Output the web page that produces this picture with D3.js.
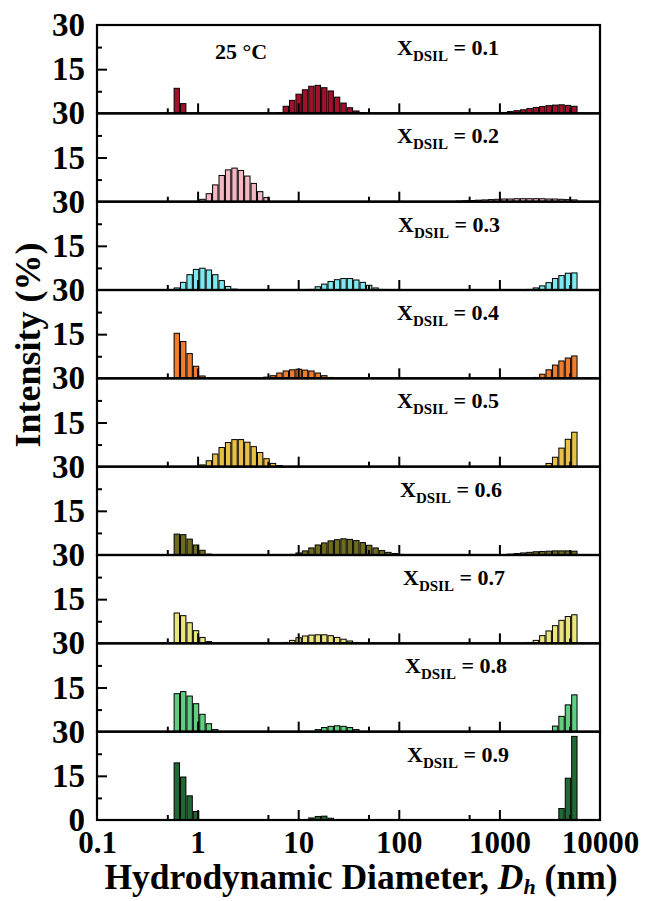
<!DOCTYPE html>
<html>
<head>
<meta charset="utf-8">
<script src="https://cdn.jsdelivr.net/npm/d3@7/dist/d3.min.js"></script>
<style>
  html, body { margin: 0; padding: 0; background: #ffffff; }
  svg { display: block; }
  text { font-family: "Liberation Serif", "Times New Roman", serif; font-weight: bold; fill: #000; }
</style>
</head>
<body>
<svg id="chart" width="665" height="901"></svg>
<script>
// Size-bin centres of the DLS instrument (nm)
const binSizes = [0.4, 0.4632, 0.5365, 0.6213, 0.7195, 0.8332, 0.9649, 1.117, 1.294, 1.499,
  1.736, 2.01, 2.328, 2.696, 3.122, 3.615, 4.187, 4.849, 5.615, 6.503,
  7.531, 8.721, 10.1, 11.7, 13.54, 15.69, 18.17, 21.04, 24.36, 28.21,
  32.67, 37.84, 43.82, 50.75, 58.77, 68.06, 78.82, 91.28, 105.7, 122.4,
  141.8, 164.2, 190.1, 220.2, 255.0, 295.3, 342.0, 396.1, 458.7, 531.2,
  615.1, 712.4, 825.0, 955.4, 1106, 1281, 1484, 1718, 1990, 2305,
  2669, 3091, 3580, 4145, 4801, 5560, 6439, 7456, 8635, 10000];

// Mole fraction of DSIL for each panel
const mixFractions = ["0.1", "0.2", "0.3", "0.4", "0.5", "0.6", "0.7", "0.8", "0.9"];

// Intensity distributions: [diameter (nm), intensity (%)]
const dsil01 = [[0.6213, 8.5], [0.7195, 3.3],
  [6.503, 0.2], [7.531, 2.4], [8.721, 4.4], [10.1, 6.5], [11.7, 8.0], [13.54, 9.2], [15.69, 9.5],
  [18.17, 8.7], [21.04, 7.6], [24.36, 5.5], [28.21, 3.5], [32.67, 1.9], [37.84, 0.8], [43.82, 0.2],
  [955.4, 0.1], [1106, 0.3], [1281, 0.6], [1484, 0.9], [1718, 1.2], [1990, 1.6], [2305, 2.0],
  [2669, 2.3], [3091, 2.6], [3580, 2.8], [4145, 2.9], [4801, 2.7], [5560, 2.4]];
const dsil02 = [[1.117, 0.8], [1.294, 2.7], [1.499, 5.7], [1.736, 8.9], [2.01, 10.8], [2.328, 11.4],
  [2.696, 10.6], [3.122, 8.7], [3.615, 6.2], [4.187, 3.4], [4.849, 1.4],
  [396.1, 0.2], [458.7, 0.3], [531.2, 0.4], [615.1, 0.5], [712.4, 0.6], [825.0, 0.7], [955.4, 0.8],
  [1106, 0.9], [1281, 0.9], [1484, 1.0], [1718, 1.0], [1990, 1.0], [2305, 1.0], [2669, 1.0],
  [3091, 0.9], [3580, 0.9], [4145, 0.8], [4801, 0.7], [5560, 0.6]];
const dsil03 = [[0.6213, 0.7], [0.7195, 2.6], [0.8332, 5.2], [0.9649, 7.0], [1.117, 7.4], [1.294, 6.8],
  [1.499, 5.2], [1.736, 3.2], [2.01, 1.2], [2.328, 0.3],
  [13.54, 0.2], [15.69, 1.1], [18.17, 2.0], [21.04, 2.9], [24.36, 3.5], [28.21, 3.9], [32.67, 3.9],
  [37.84, 3.4], [43.82, 2.6], [50.75, 1.6], [58.77, 0.7], [68.06, 0.2],
  [1990, 0.2], [2305, 0.7], [2669, 1.4], [3091, 2.5], [3580, 3.9], [4145, 4.9], [4801, 5.7], [5560, 5.8]];
const dsil04 = [[0.6213, 15.3], [0.7195, 12.5], [0.8332, 8.4], [0.9649, 4.1], [1.117, 0.8],
  [4.849, 0.4], [5.615, 0.9], [6.503, 1.8], [7.531, 2.5], [8.721, 2.9], [10.1, 3.1], [11.7, 2.8],
  [13.54, 2.5], [15.69, 1.8], [18.17, 0.9], [21.04, 0.3],
  [2305, 0.3], [2669, 1.4], [3091, 2.9], [3580, 4.5], [4145, 5.9], [4801, 6.9], [5560, 7.6]];
const dsil05 = [[1.117, 0.6], [1.294, 2.0], [1.499, 4.3], [1.736, 6.5], [2.01, 8.2], [2.328, 9.2],
  [2.696, 9.2], [3.122, 8.3], [3.615, 6.8], [4.187, 4.8], [4.849, 2.7], [5.615, 1.1], [6.503, 0.4],
  [3091, 1.1], [3580, 3.2], [4145, 6.3], [4801, 9.3], [5560, 11.7]];
const dsil06 = [[0.6213, 7.1], [0.7195, 6.9], [0.8332, 5.4], [0.9649, 3.4], [1.117, 1.6], [1.294, 0.3],
  [8.721, 0.2], [10.1, 0.7], [11.7, 1.4], [13.54, 2.4], [15.69, 3.4], [18.17, 4.1], [21.04, 4.8],
  [24.36, 5.2], [28.21, 5.5], [32.67, 5.3], [37.84, 4.9], [43.82, 4.2], [50.75, 3.3], [58.77, 2.4],
  [68.06, 1.5], [78.82, 0.9], [91.28, 0.5], [105.7, 0.2],
  [1106, 0.1], [1281, 0.3], [1484, 0.5], [1718, 0.7], [1990, 0.9], [2305, 1.1], [2669, 1.2],
  [3091, 1.3], [3580, 1.4], [4145, 1.4], [4801, 1.4], [5560, 1.3]];
const dsil07 = [[0.6213, 10.3], [0.7195, 9.4], [0.8332, 7.0], [0.9649, 4.3], [1.117, 2.0], [1.294, 0.6],
  [7.531, 0.3], [8.721, 1.0], [10.1, 1.9], [11.7, 2.5], [13.54, 2.8], [15.69, 2.9], [18.17, 2.9],
  [21.04, 2.6], [24.36, 2.0], [28.21, 1.4], [32.67, 0.8], [37.84, 0.3],
  [1990, 0.3], [2305, 1.0], [2669, 2.6], [3091, 4.2], [3580, 6.0], [4145, 7.8], [4801, 9.1], [5560, 9.7]];
const dsil08 = [[0.6213, 12.9], [0.7195, 13.6], [0.8332, 12.1], [0.9649, 9.5], [1.117, 5.9], [1.294, 2.7],
  [1.499, 0.7],
  [15.69, 0.7], [18.17, 1.4], [21.04, 1.8], [24.36, 2.0], [28.21, 1.8], [32.67, 1.4], [37.84, 0.7],
  [3580, 1.9], [4145, 5.2], [4801, 9.1], [5560, 12.5]];
const dsil09 = [[0.6213, 19.4], [0.7195, 14.6], [0.8332, 8.2], [0.9649, 2.9],
  [13.54, 0.7], [15.69, 1.2], [18.17, 1.3], [21.04, 0.6],
  [4145, 3.9], [4801, 14.2], [5560, 28.4]];

const panelSeries = [dsil01, dsil02, dsil03, dsil04, dsil05, dsil06, dsil07, dsil08, dsil09];

// Axis ticks and labels
const xTickLabels = [0.1, 1, 10, 100, 1000, 10000];
const xMajorTicks = [1, 10, 100, 1000];
const xMinorTicks = [0.5, 5, 50, 500, 5000];
const yMajorTicks = [15];
const yMinorTicks = [7.5, 22.5];
const yDomain = [0, 30];

// Styling
const barColors = ["#a3102a", "#f5b8c3", "#7ce9ee", "#f07c2c", "#e9c046",
                   "#6e6b1d", "#ebe57c", "#5fcf7f", "#1f6a34"];
const labelNudge = [0, 0, 1, 0, 0, 3, 6, 8, 10];

const svg = d3.select("#chart");
const plotLeft = 97, plotRight = 600, plotTop = 25, plotBottom = 820;
const nPanels = panelSeries.length;
const panelH = (plotBottom - plotTop) / nPanels;

const x = d3.scaleLog().domain([0.1, 10000]).range([plotLeft, plotRight]);
const binRatio = binSizes[1] / binSizes[0];
const binPx = x(Math.sqrt(binRatio)) - x(1 / Math.sqrt(binRatio));
const barW = binPx * 0.84;
const serif = '"Liberation Serif", "Times New Roman", serif';

panelSeries.forEach((series, i) => {
  const y0 = plotTop + i * panelH;
  const y1 = y0 + panelH;
  const y = d3.scaleLinear().domain(yDomain).range([y1, y0]);
  const g = svg.append("g");

  // bars
  g.selectAll("rect.bar").data(series).join("rect")
    .attr("class", "bar")
    .attr("x", d => x(d[0]) - barW / 2)
    .attr("width", barW)
    .attr("y", d => y(d[1]))
    .attr("height", d => y(0) - y(d[1]))
    .attr("fill", barColors[i])
    .attr("stroke", "#000")
    .attr("stroke-width", 1);

  // inward x ticks along the bottom of every panel
  const xMajor = d3.axisTop(x).tickValues(xMajorTicks).tickSize(10).tickFormat("");
  const xMinor = d3.axisTop(x).tickValues(xMinorTicks).tickSize(5).tickFormat("");
  [xMajor, xMinor].forEach(ax => {
    const a = g.append("g").attr("transform", `translate(0,${y1})`).call(ax);
    a.select(".domain").remove();
    a.selectAll("line").attr("stroke", "#000").attr("stroke-width", 2);
  });

  // inward y ticks on the left edge
  const yMajor = d3.axisRight(y).tickValues(yMajorTicks).tickSize(10).tickFormat("");
  const yMinor = d3.axisRight(y).tickValues(yMinorTicks).tickSize(5).tickFormat("");
  [yMajor, yMinor].forEach(ax => {
    const a = g.append("g").attr("transform", `translate(${plotLeft},0)`).call(ax);
    a.select(".domain").remove();
    a.selectAll("line").attr("stroke", "#000").attr("stroke-width", 2);
  });

  // y tick labels
  const yLabVals = i === nPanels - 1 ? [0, 15, 30] : [15, 30];
  const yLab = g.append("g").attr("transform", `translate(${plotLeft},0)`)
    .call(d3.axisLeft(y).tickValues(yLabVals).tickSize(0).tickPadding(12).tickFormat(d3.format("d")));
  yLab.select(".domain").remove();
  yLab.selectAll("text")
    .style("font-family", serif)
    .style("font-weight", "bold").style("font-size", "33px").attr("fill", "#000");

  // panel frame
  g.append("rect")
    .attr("x", plotLeft).attr("y", y0)
    .attr("width", plotRight - plotLeft).attr("height", panelH)
    .attr("fill", "none").attr("stroke", "#000").attr("stroke-width", 2.2);

  // composition label
  const lab = g.append("text")
    .attr("x", 397 + labelNudge[i]).attr("y", y0 + 30)
    .style("font-size", "22px");
  lab.append("tspan").text("X");
  lab.append("tspan").attr("dy", 6).style("font-size", "15px").text("DSIL");
  lab.append("tspan").attr("dy", -6).text(" = " + mixFractions[i]);

  if (i === 0) {
    g.append("text").attr("x", 215).attr("y", y0 + 34)
      .style("font-size", "22px").text("25 \u00B0C");
  }

  // x tick labels under the last panel
  if (i === nPanels - 1) {
    const xl = g.append("g").attr("transform", `translate(0,${y1})`)
      .call(d3.axisBottom(x).tickValues(xTickLabels).tickSize(0).tickPadding(11)
        .tickFormat(d => String(d)));
    xl.select(".domain").remove();
    xl.selectAll("text")
      .style("font-family", serif)
      .style("font-weight", "bold").style("font-size", "31px").attr("fill", "#000");
  }
});

// axis titles
const xt = svg.append("text").attr("x", 361).attr("y", 889)
  .attr("text-anchor", "middle").style("font-size", "35.5px");
xt.append("tspan").text("Hydrodynamic Diameter, ");
xt.append("tspan").style("font-style", "italic").text("D");
xt.append("tspan").style("font-style", "italic").style("font-size", "22px").attr("dy", 5).text("h");
xt.append("tspan").attr("dy", -5).text(" (nm)");

svg.append("text")
  .attr("transform", "translate(40,345) rotate(-90)")
  .attr("text-anchor", "middle").style("font-size", "36px")
  .text("Intensity (%)");
</script>
</body>
</html>
